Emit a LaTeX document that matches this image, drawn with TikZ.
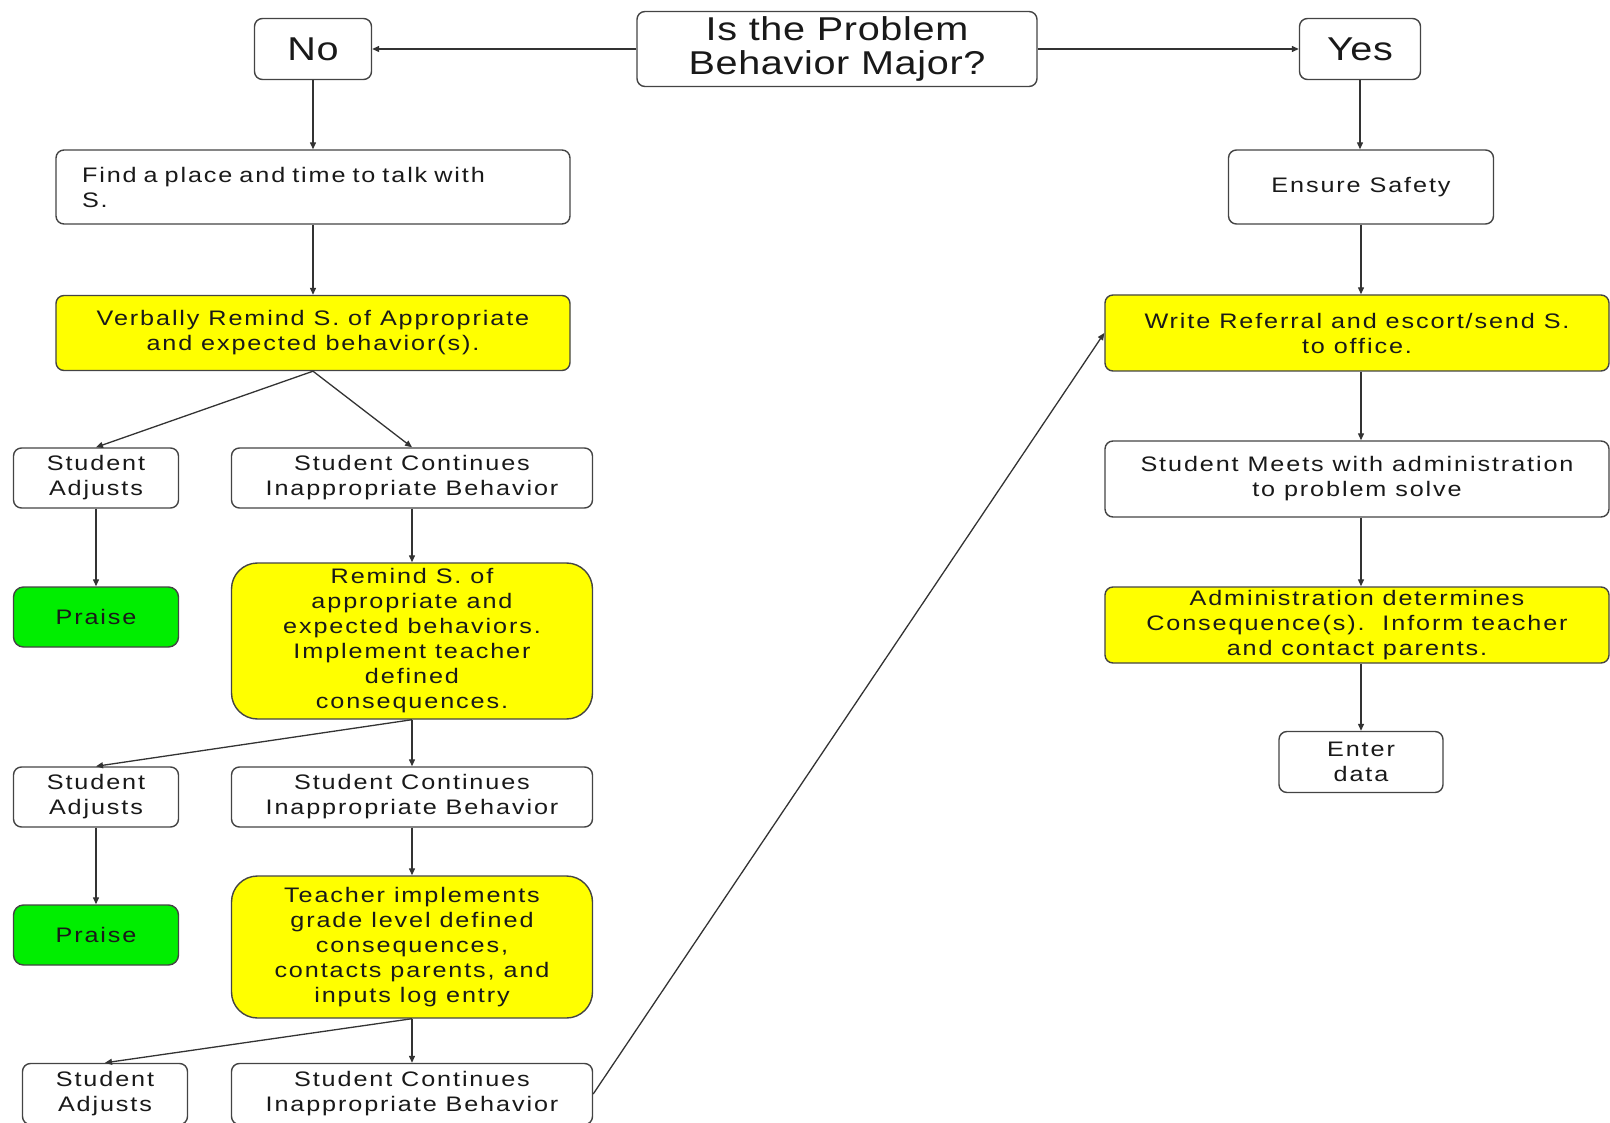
\documentclass[tikz,border=0pt]{standalone}
\usepackage{fontspec}
\newfontfamily\boxfont{Liberation Sans}[FakeStretch=1.2,LetterSpace=9]
\newfontfamily\headfont{Liberation Sans}[FakeStretch=1.2,LetterSpace=2]
\usetikzlibrary{arrows.meta}
\definecolor{boxline}{HTML}{444444}
\definecolor{marker}{HTML}{FFFF00}
\definecolor{praisegreen}{HTML}{00EE00}

\begin{document}
\begin{tikzpicture}
[x=1pt,y=-1pt,inner sep=0pt,
box/.style={rectangle,rounded corners=8pt,draw=boxline,line width=1.4pt,fill=white,align=center,
  text=black!90,font=\boxfont\fontsize{21}{25}\selectfont},
head/.style={box,font=\headfont\fontsize{33}{34}\selectfont},
marked/.style={box,fill=marker},
praise/.style={box,fill=praisegreen,rounded corners=10pt},
big/.style={rounded corners=26pt,minimum width=361pt},
note/.style={box,align=left,text width=462pt,inner xsep=26pt,minimum height=74pt},
side/.style={minimum width=165pt,minimum height=60pt},
column/.style={minimum width=361pt,minimum height=60pt},
wide/.style={minimum width=514pt,minimum height=75pt},
office/.style={minimum width=504pt,minimum height=76pt},
arrow/.style={-{Triangle[length=7pt,width=6pt]},draw=black!80,line width=1.3pt}]
\useasboundingbox (0,0) rectangle (1610,1123);

% top row
\node[head,minimum width=400pt,minimum height=75pt] (major question) at (837,49) {Is the Problem\\Behavior Major?};
\node[head,minimum width=117pt,minimum height=61pt] (no) at (313,49) {No};
\node[head,minimum width=121pt,minimum height=61pt] (yes) at (1360,49) {Yes};

% minor side
\node[note] (find place) at (313,187) {Find a place and time to talk with\\S.};
\node[marked,wide] (verbal reminder) at (313,333) {Verbally Remind S. of Appropriate\\and expected behavior(s).};
\node[box,side] (adjusts 1) at (96,478) {Student\\Adjusts};
\node[box,column] (continues 1) at (412,478) {Student Continues\\Inappropriate Behavior};
\node[praise,side] (praise 1) at (96,617) {Praise};
\node[marked,big,minimum height=156pt] (remind) at (412,641) {Remind S. of\\appropriate and\\expected behaviors.\\Implement teacher\\defined\\consequences.};
\node[box,side] (adjusts 2) at (96,797) {Student\\Adjusts};
\node[box,column] (continues 2) at (412,797) {Student Continues\\Inappropriate Behavior};
\node[praise,side] (praise 2) at (96,935) {Praise};
\node[marked,big,minimum height=142pt] (consequences) at (412,947) {Teacher implements\\grade level defined\\consequences,\\contacts parents, and\\inputs log entry};
\node[box,side,minimum height=61pt] (adjusts 3) at (105,1094) {Student\\Adjusts};
\node[box,column,minimum height=61pt] (continues 3) at (412,1094) {Student Continues\\Inappropriate Behavior};

% major side
\node[box,minimum width=265pt,minimum height=74pt] (ensure safety) at (1361,187) {Ensure Safety};
\node[marked,office] (referral) at (1357,333) {Write Referral and escort/send S.\\to office.};
\node[box,office] (meeting) at (1357,479) {Student Meets with administration\\to problem solve};
\node[marked,office] (admin) at (1357,625) {Administration determines\\Consequence(s).\ \ Inform teacher\\and contact parents.};
\node[box,minimum width=164pt,minimum height=61pt] (enter data) at (1361,762) {Enter\\data};

% connectors
\draw[arrow] (major question.west) -- (no.east);
\draw[arrow] (major question.east) -- (yes.west);
\draw[arrow] (no) -- (find place);
\draw[arrow] (find place) -- (verbal reminder);
\draw[arrow] (verbal reminder.south) -- (adjusts 1.north);
\draw[arrow] (verbal reminder.south) -- (continues 1.north);
\draw[arrow] (adjusts 1) -- (praise 1);
\draw[arrow] (continues 1) -- (remind);
\draw[arrow] (remind.south) -- (adjusts 2.north);
\draw[arrow] (remind) -- (continues 2);
\draw[arrow] (adjusts 2) -- (praise 2);
\draw[arrow] (continues 2) -- (consequences);
\draw[arrow] (consequences.south) -- (adjusts 3.north);
\draw[arrow] (consequences) -- (continues 3);
\draw[arrow] (continues 3.east) -- (referral.west);
\draw[arrow] (yes.south) -- (ensure safety.north -| yes);
\draw[arrow] (ensure safety.south -| enter data) -- (referral.north -| enter data);
\draw[arrow] (referral.south -| enter data) -- (meeting.north -| enter data);
\draw[arrow] (meeting.south -| enter data) -- (admin.north -| enter data);
\draw[arrow] (admin.south -| enter data) -- (enter data);
\end{tikzpicture}
\end{document}
